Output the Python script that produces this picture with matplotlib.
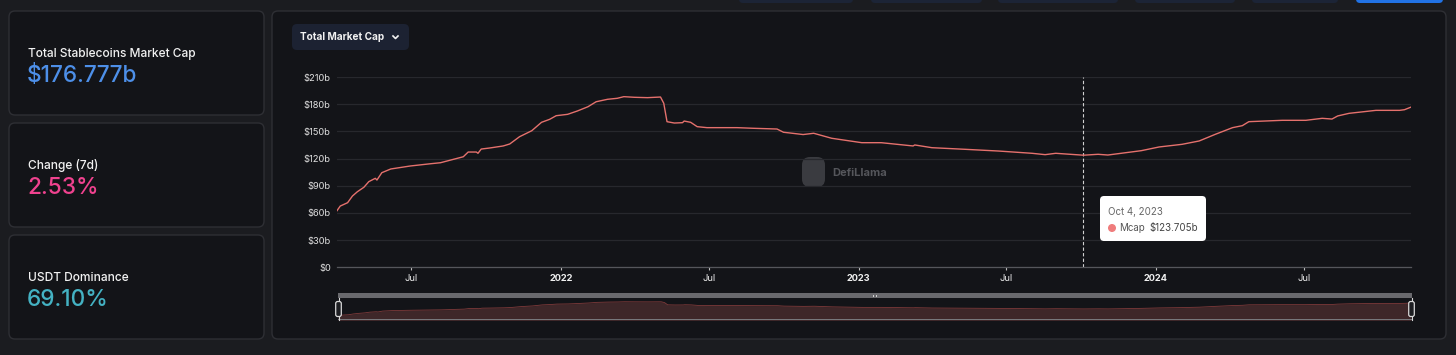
"""Stablecoins dashboard strip: three stat cards + total market cap line."""

import numpy as np
import pandas as pd
import matplotlib
matplotlib.use("Agg")
import matplotlib.pyplot as plt
from matplotlib.patches import FancyBboxPatch, Rectangle, Circle

plt.rcParams["font.family"] = ["Inter", "DejaVu Sans"]

# --- data ------------------------------------------------------------------
dates = [
    "2021-04-01", "2021-04-05", "2021-04-14", "2021-04-20", "2021-04-26",
    "2021-05-04", "2021-05-10", "2021-05-18", "2021-05-20", "2021-05-26",
    "2021-06-06", "2021-06-14", "2021-06-30", "2021-07-25", "2021-08-06",
    "2021-09-03", "2021-09-09", "2021-09-19", "2021-09-21", "2021-09-25",
    "2021-10-05", "2021-10-22", "2021-10-30", "2021-11-11", "2021-11-26",
    "2021-12-08", "2021-12-18", "2021-12-26", "2022-01-09", "2022-01-21",
    "2022-02-03", "2022-02-13", "2022-02-27", "2022-03-11", "2022-03-19",
    "2022-04-01", "2022-04-17", "2022-05-03", "2022-05-07", "2022-05-11",
    "2022-05-20", "2022-05-30", "2022-06-01", "2022-06-09", "2022-06-17",
    "2022-06-29", "2022-08-05", "2022-08-25", "2022-09-23", "2022-10-01",
    "2022-10-09", "2022-10-25", "2022-11-07", "2022-11-29", "2023-01-05",
    "2023-01-29", "2023-03-09", "2023-03-11", "2023-04-01", "2023-05-12",
    "2023-06-22", "2023-08-02", "2023-08-18", "2023-08-31", "2023-10-04",
    "2023-10-22", "2023-11-03", "2023-12-14", "2024-01-05", "2024-02-02",
    "2024-02-23", "2024-03-14", "2024-04-04", "2024-04-16", "2024-04-24",
    "2024-06-04", "2024-07-03", "2024-07-23", "2024-08-04", "2024-08-11",
    "2024-08-25", "2024-09-27", "2024-10-26", "2024-11-01", "2024-11-09",
]
mcap = [
    62.5, 67.6, 71.3, 78.7, 83.4,
    88.3, 94.5, 98.2, 96.3, 104.4,
    108.5, 109.6, 111.8, 114.3, 115.4,
    122.0, 127.2, 127.2, 125.8, 130.5,
    131.6, 133.9, 136.1, 144.1, 150.7,
    160.0, 163.3, 167.3, 168.8, 172.5,
    177.2, 182.7, 185.4, 186.5, 188.3,
    187.6, 187.2, 187.9, 181.0, 160.7,
    159.2, 159.6, 161.4, 160.0, 155.2,
    154.1, 154.1, 153.4, 152.6, 149.0,
    148.2, 146.5, 147.9, 142.4, 137.5,
    137.5, 133.9, 135.0, 132.0, 130.2,
    128.3, 125.8, 124.3, 125.8, 123.705,
    124.7, 123.9, 128.7, 132.8, 135.7,
    139.4, 146.8, 154.1, 156.3, 160.7,
    162.2, 162.2, 164.4, 163.6, 167.0,
    169.9, 173.2, 173.2, 173.9, 176.777,
]

tick_dates = ["2021-07-01", "2022-01-01", "2022-07-01", "2023-01-01",
              "2023-07-01", "2024-01-01", "2024-07-01"]
tick_labels = ["Jul", "2022", "Jul", "2023", "Jul", "2024", "Jul"]
y_ticks = [0, 30, 60, 90, 120, 150, 180, 210]
y_labels = ["$0", "$30b", "$60b", "$90b", "$120b", "$150b", "$180b", "$210b"]

cards = [
    ("Total Stablecoins Market Cap", "$176.777b", "#4d8fe8"),
    ("Change (7d)", "2.53%", "#f0428f"),
    ("USDT Dominance", "69.10%", "#44b2c3"),
]
hover_date = "2023-10-04"
hover_label = "Oct 4, 2023"
hover_value = "$123.705b"

# --- colours ---------------------------------------------------------------
BG = "#1b1c20"
CARD = "#131418"
EDGE = "#2e2f34"
GRID = "#27282d"
LINE = "#e5716d"

W, H = 1456, 355
x = pd.to_datetime(dates)
fig = plt.figure(figsize=(W / 100, H / 100), dpi=100, facecolor=BG)


def pixel_axes():
    """Full-figure axes in pixel units, y growing downwards."""
    a = fig.add_axes([0, 0, 1, 1])
    a.set_xlim(0, W); a.set_ylim(H, 0); a.axis("off")
    a.patch.set_visible(False)
    return a


def box(a, x0, y0, w, h, face, edge="none", r=6, lw=1.0, z=1):
    a.add_patch(FancyBboxPatch((x0, y0), w, h,
                               boxstyle=f"round,pad=0,rounding_size={r}",
                               fc=face, ec=edge, lw=lw, zorder=z))


bg = pixel_axes()

# top nav buttons (cut off by the crop)
for bx, bw, col in [(739, 114, "#1c2436"), (871, 111, "#1c2436"),
                    (998, 120, "#1c2436"), (1135, 100, "#1c2436"),
                    (1252, 86, "#1c2436"), (1356, 87, "#2172e5")]:
    box(bg, bx, -8, bw, 11, col, r=4)

# stat cards
for i, (lab, val, col) in enumerate(cards):
    y0 = 11 + i * 112
    box(bg, 9, y0, 255, 104, CARD, EDGE)
    bg.text(28, y0 + 43, lab, color="#f2f2f2", fontsize=8.6,
            fontweight="medium", va="center")
    bg.text(27, y0 + 64.5, val, color=col, fontsize=16.3,
            fontweight="medium", va="center")

# main chart panel + selector
box(bg, 272, 11, 1174, 328, CARD, EDGE)
box(bg, 292, 24, 117, 26, "#1c2232", r=5, z=2)
bg.text(300, 37.5, "Total Market Cap", color="#f2f2f2", fontsize=7.2,
        fontweight="bold", va="center", zorder=3)
bg.plot([393, 395.5, 398], [36, 38.5, 36], color="#f2f2f2", lw=1.2, zorder=3)

# watermark
box(bg, 802, 157, 23, 30, "#3a3b40", r=8, z=2)
bg.text(832, 173.5, "DefiLlama", color="#55565b", fontsize=8,
        fontweight="bold", va="center", zorder=2)

# --- main line chart ---------------------------------------------------------
ax = fig.add_axes([337 / W, (H - 267.3) / H, (1411 - 337) / W, 190.3 / H])
ax.set_facecolor("none")
ax.plot(x, mcap, color=LINE, lw=1.0, zorder=3)
ax.axvline(pd.Timestamp(hover_date), color="#d0d0d0", lw=0.8,
           ls=(0, (3, 2)), zorder=2)
ax.set_xlim(x[0], x[-1])
ax.set_ylim(0, 210)
ax.set_yticks(y_ticks, y_labels)
ax.yaxis.grid(True, color=GRID, lw=0.9)
ax.set_axisbelow(True)
ax.tick_params(axis="y", length=0, pad=4.5, labelsize=6.7, labelcolor="#e0e0e0")
ax.set_xticks(pd.to_datetime(tick_dates), tick_labels)
ax.tick_params(axis="x", length=2.5, width=0.8, color="#bdbdbd", pad=2.5,
               labelsize=6.7, labelcolor="#f0f0f0")
for t, lab in zip(ax.get_xticklabels(), tick_labels):
    if lab != "Jul":
        t.set_fontweight("bold")
for s in ["left", "right", "top"]:
    ax.spines[s].set_visible(False)
ax.spines["bottom"].set_color("#55565b")
ax.spines["bottom"].set_linewidth(0.9)

# --- range navigator ---------------------------------------------------------
nav = fig.add_axes([338 / W, (H - 320) / H, (1411 - 338) / W, 22 / H])
nav.fill_between(x, mcap, 0, color="#3e2729", lw=0)
nav.plot(x, mcap, color="#7e3a3a", lw=0.6)
nav.set_xlim(x[0], x[-1]); nav.set_ylim(24, 222)
nav.axis("off")

# overlay: tooltip and navigator chrome sit above the plot axes
top = pixel_axes()
box(top, 1100, 196, 106, 45, "#ffffff", r=4, z=5)
top.text(1108, 212, hover_label, color="#666666", fontsize=7, va="center", zorder=6)
top.add_patch(Circle((1112, 228), 3.3, color="#ef7c7c", zorder=6))
top.text(1119, 228, "Mcap", color="#555555", fontsize=7, va="center", zorder=6)
top.text(1149, 228, hover_value, color="#444444", fontsize=7, va="center", zorder=6)

top.add_patch(Rectangle((338, 293), 1074, 5, fc="#69696d", ec="none", zorder=4))
top.add_patch(Rectangle((338, 318.5), 1074, 1.5, fc="#77777b", ec="none", zorder=4))
top.add_patch(Rectangle((873, 294.5), 1.2, 2, fc="#cfcfcf", ec="none", zorder=5))
top.add_patch(Rectangle((876, 294.5), 1.2, 2, fc="#cfcfcf", ec="none", zorder=5))
for hx in (338.5, 1411.5):
    top.plot([hx, hx], [298, 320], color="#d8d8d8", lw=0.8, zorder=5)
    box(top, hx - 2.8, 301.5, 5.6, 15, "#1d1e22", "#d8d8d8", r=2, lw=0.9, z=6)

fig.savefig("out.png", dpi=100, facecolor=BG)
